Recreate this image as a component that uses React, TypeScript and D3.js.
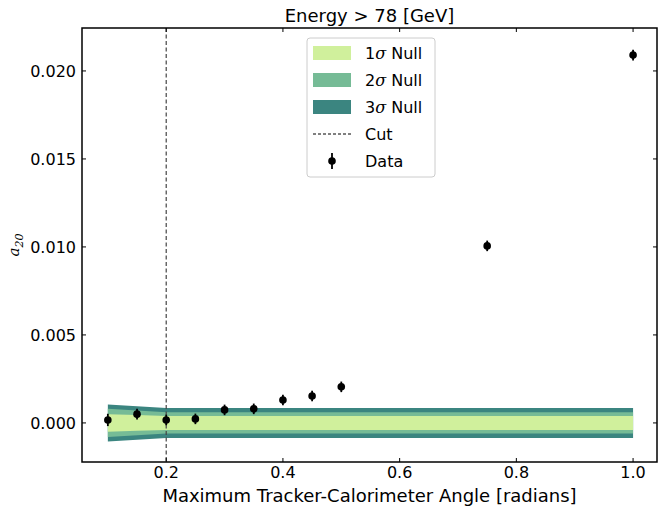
import * as d3 from 'd3';

const angles = [0.1, 0.15, 0.2, 0.25, 0.3, 0.35, 0.4, 0.45, 0.5, 0.75, 1.0];
const a20 = [0.00017, 0.0005, 0.00017, 0.00023, 0.00074, 0.0008, 0.0013, 0.00153, 0.00205, 0.01006, 0.0209];
const a20Err = [0.00035, 0.0003, 0.0003, 0.0003, 0.0003, 0.0003, 0.0003, 0.0003, 0.0003, 0.0003, 0.0003];

const nullX = [0.1, 0.15, 0.2, 0.3, 0.5, 0.75, 1.0];
const sigma1 = [0.0005, 0.00045, 0.0004, 0.0004, 0.0004, 0.0004, 0.0004];
const sigma2 = [0.0008, 0.0007, 0.0006, 0.0006, 0.0006, 0.0006, 0.0006];
const sigma3 = [0.00105, 0.00095, 0.00085, 0.00085, 0.00085, 0.00085, 0.00085];

const xTicks = [0.2, 0.4, 0.6, 0.8, 1.0];
const yTicks = [0, 0.005, 0.01, 0.015, 0.02];
const cutX = 0.2;

const bands = [
  { label: '3', vals: sigma3, color: '#3b8580' },
  { label: '2', vals: sigma2, color: '#76bb96' },
  { label: '1', vals: sigma1, color: '#d0f09c' },
];

export default function App() {
  const W = 658, H = 508;
  const m = { left: 82, right: 1, top: 28, bottom: 46 };
  const x = d3.scaleLinear().domain([0.0557, 1.041]).range([m.left, W - m.right]);
  const y = d3.scaleLinear().domain([-0.00222, 0.02244]).range([H - m.bottom, m.top]);
  const font = 'DejaVu Sans, sans-serif';
  const area = (v: number[]) =>
    d3.area<number>().x((_, i) => x(nullX[i])).y0((d) => y(-d)).y1((d) => y(d))(v) || '';
  const lx = 313, ly = 38;
  return (
    <svg width={W} height={H} style={{ position: 'absolute', left: 0, top: 0 }} fontFamily={font}>
      <rect width={W} height={H} fill="#fff" />
      {bands.map((b) => (
        <path key={b.label} d={area(b.vals)} fill={b.color} />
      ))}
      <line x1={x(cutX)} x2={x(cutX)} y1={m.top} y2={H - m.bottom} stroke="#444" strokeDasharray="4,2.5" strokeWidth={1.2} />
      {angles.map((a, i) => (
        <g key={a}>
          <line x1={x(a)} x2={x(a)} y1={y(a20[i] - a20Err[i])} y2={y(a20[i] + a20Err[i])} stroke="#000" strokeWidth={1.8} />
          <circle cx={x(a)} cy={y(a20[i])} r={3.8} fill="#000" />
        </g>
      ))}
      <rect x={m.left} y={m.top} width={W - m.left - m.right} height={H - m.top - m.bottom} fill="none" stroke="#000" strokeWidth={1.5} />
      {xTicks.map((t) => (
        <g key={t}>
          <line x1={x(t)} x2={x(t)} y1={H - m.bottom} y2={H - m.bottom - 4} stroke="#000" />
          <line x1={x(t)} x2={x(t)} y1={m.top} y2={m.top + 4} stroke="#000" />
          <text x={x(t)} y={478} fontSize={16} textAnchor="middle">{t.toFixed(1)}</text>
        </g>
      ))}
      {yTicks.map((t) => (
        <g key={t}>
          <line x1={m.left} x2={m.left + 4} y1={y(t)} y2={y(t)} stroke="#000" />
          <line x1={W - m.right} x2={W - m.right - 4} y1={y(t)} y2={y(t)} stroke="#000" />
          <text x={m.left - 6} y={y(t) + 6} fontSize={16} textAnchor="end">{t.toFixed(3)}</text>
        </g>
      ))}
      <text x={(m.left + W - m.right) / 2} y={502} fontSize={18} textAnchor="middle">Maximum Tracker-Calorimeter Angle [radians]</text>
      <text x={(m.left + W - m.right) / 2} y={22} fontSize={18} textAnchor="middle">Energy &gt; 78 [GeV]</text>
      <text transform={`translate(19,${(m.top + H - m.bottom) / 2}) rotate(-90)`} fontSize={15} textAnchor="middle" fontStyle="italic" fontFamily="DejaVu Serif, serif">
        a<tspan fontSize={11} dy={4}>20</tspan>
      </text>
      <rect x={lx - 6} y={ly} width={128} height={139} rx={3} fill="#fff" stroke="#ccc" />
      {bands.slice().reverse().map((b, i) => (
        <g key={b.label}>
          <rect x={lx} y={ly + 8 + i * 27} width={38} height={14} fill={b.color} />
          <text x={lx + 52} y={ly + 21 + i * 27} fontSize={16}>
            {b.label}<tspan fontStyle="italic" fontFamily="DejaVu Serif, serif">σ</tspan> Null
          </text>
        </g>
      ))}
      <line x1={lx} x2={lx + 38} y1={ly + 96} y2={ly + 96} stroke="#000" strokeDasharray="3,2" />
      <text x={lx + 52} y={ly + 102} fontSize={16}>Cut</text>
      <line x1={lx + 19} x2={lx + 19} y1={ly + 115} y2={ly + 131} stroke="#000" strokeWidth={1.8} />
      <circle cx={lx + 19} cy={ly + 123} r={3.8} fill="#000" />
      <text x={lx + 52} y={ly + 129} fontSize={16}>Data</text>
    </svg>
  );
}
